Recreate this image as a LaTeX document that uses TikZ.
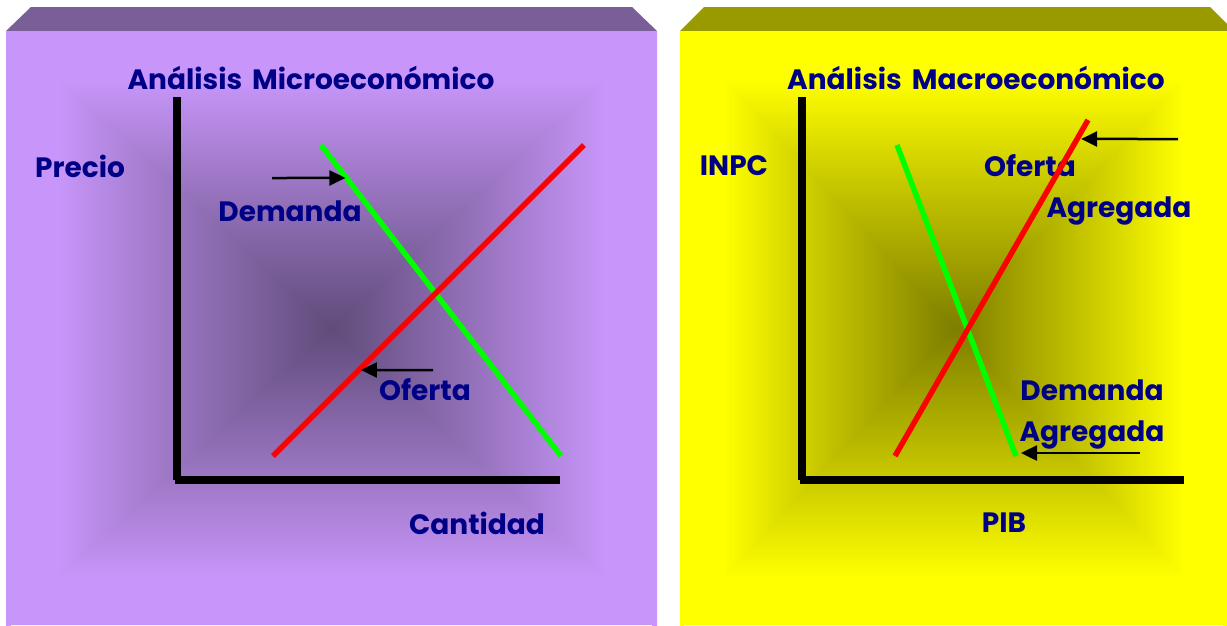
\documentclass[tikz,border=0pt]{standalone}
\usepackage{fontspec}
\setmainfont{Poppins}
\usetikzlibrary{arrows.meta,calc}
\definecolor{lav}{RGB}{200,150,250}
\definecolor{lavdark}{RGB}{96,76,122}
\colorlet{lavmid}{lav!58!lavdark}
\definecolor{lavtop}{RGB}{122,94,152}
\definecolor{yel}{RGB}{255,255,0}
\definecolor{yeldark}{RGB}{126,126,0}
\colorlet{yelmid}{yel!58!yeldark}
\definecolor{yeltop}{RGB}{153,153,0}
\definecolor{navy}{RGB}{0,0,135}
\definecolor{grn}{RGB}{0,255,0}
\definecolor{rd}{RGB}{255,0,0}
\newcommand\declpyr[4]{%
 \pgfdeclarehorizontalshading{#1L}{100bp}{color(0bp)=(#2); color(33bp)=(#2); color(50bp)=(#3); color(75bp)=(#4); color(100bp)=(#4)}%
 \pgfdeclarehorizontalshading{#1R}{100bp}{color(0bp)=(#4); color(25bp)=(#4); color(50bp)=(#3); color(67bp)=(#2); color(100bp)=(#2)}%
 \pgfdeclareverticalshading{#1B}{100bp}{color(0bp)=(#2); color(33bp)=(#2); color(50bp)=(#3); color(75bp)=(#4); color(100bp)=(#4)}%
 \pgfdeclareverticalshading{#1T}{100bp}{color(0bp)=(#4); color(25bp)=(#4); color(50bp)=(#3); color(67bp)=(#2); color(100bp)=(#2)}%
}
\declpyr{lavs}{lav}{lavmid}{lavdark}
\declpyr{yels}{yel}{yelmid}{yeldark}
\newcommand\pyrpanel[5]{%
  \path (#1,#2) coordinate (pA) (#3,#2) coordinate (pB) (#3,#4) coordinate (pC)
        (#1,#4) coordinate (pD) ({(#1+#3)/2},{(#2+#4)/2}) coordinate (pO);
  \begin{scope}\clip ($(pA)+(0,-5)$)--($(pD)+(0,5)$)--($(pO)+(5,0)$)--cycle;
    \shade[shading=#5L] (pA) rectangle (pO|-pD);\end{scope}
  \begin{scope}\clip ($(pB)+(0,-5)$)--($(pC)+(0,5)$)--($(pO)+(-5,0)$)--cycle;
    \shade[shading=#5R] (pO|-pB) rectangle (pC);\end{scope}
  \begin{scope}\clip (pA)--(pB)--(pO)--cycle;
    \shade[shading=#5T] (pA) rectangle (pB|-pO);\end{scope}
  \begin{scope}\clip (pD)--(pC)--(pO)--cycle;
    \shade[shading=#5B] (pA|-pO) rectangle (pC);\end{scope}
}
\begin{document}
\begin{tikzpicture}[x=1pt,y=-1pt,
  lbl/.style={text=navy,font=\fontsize{28}{32}\selectfont\bfseries,inner sep=0pt},
  axisline/.style={line width=8pt,black},
  curve/.style={line width=5.5pt},
  pointer/.style={line width=2.5pt,black,-{Triangle[length=16pt,width=15pt]}}]
\useasboundingbox (0,0) rectangle (1227,625);
\fill[white] (0,0) rectangle (1227,625);
% left panel
\fill[lavtop] (6,31)--(31,7)--(632,7)--(657,31)--cycle;
\pyrpanel{6}{31}{657}{625}{lavs}
% right panel
\fill[yeltop] (680,31)--(704,7)--(1210,7)--(1234,31)--cycle;
\pyrpanel{680}{31}{1227}{625}{yels}

% ---- left diagram
\node[lbl] (tl) at (311,78) {Análisis\hspace{0.15em} Microeconómico};
\node[lbl] (precio) at (80,166) {Precio};
\node[lbl] (dem) at (290,211) {Demanda};
\node[lbl] (of) at (425,390) {Oferta};
\node[lbl] (cant) at (477,523) {Cantidad};
\coordinate (lY) at (177,97); \coordinate (lO) at (177,480);
\coordinate (lH) at (175,480); \coordinate (lX) at (560,480);
\draw[axisline] (lY) -- (lO);
\draw[axisline] (lH) -- (lX);
\coordinate (ld1) at (321,145); \coordinate (ld2) at (561,456);
\coordinate (ls1) at (273,456); \coordinate (ls2) at (584,145);
\draw[curve,grn] (ld1) -- (ld2);
\draw[curve,rd] (ls1) -- (ls2);
\coordinate (lda) at (272,178);
\coordinate (ldb) at ($(ld1)!0.106!(ld2)+(-1,0)$);
\draw[pointer] (lda) -- (ldb);
\coordinate (lsa) at (433,370);
\coordinate (lsb) at ($(ls1)!0.2765!(ls2)+(2,0)$);
\draw[pointer] (lsa) -- (lsb);

% ---- right diagram
\node[lbl] (tr) at (976,78) {Análisis\hspace{0.15em} Macroeconómico};
\node[lbl] (inpc) at (734,166) {INPC};
\node[lbl] (of2) at (1030,166) {Oferta};
\node[lbl] (ag1) at (1119,211) {Agregada};
\node[lbl] (dem2) at (1092,390) {Demanda};
\node[lbl] (ag2) at (1092,435) {Agregada};
\node[lbl] (pib) at (1004,523) {PIB};
\coordinate (rY) at (802,97); \coordinate (rO) at (802,480);
\coordinate (rH) at (800,480); \coordinate (rX) at (1184,480);
\draw[axisline] (rY) -- (rO);
\draw[axisline] (rH) -- (rX);
\coordinate (rd1) at (897,145); \coordinate (rd2) at (1016,456);
\coordinate (rs1) at (895,456); \coordinate (rs2) at (1088,120);
\draw[curve,grn] (rd1) -- (rd2);
\draw[curve,rd] (rs1) -- (rs2);
\coordinate (rsa) at (1178,139);
\coordinate (rsb) at ($(rs1)!0.9435!(rs2)+(4,0)$);
\draw[pointer] (rsa) -- (rsb);
\coordinate (rda) at (1140,453);
\coordinate (rdb) at (1021,453);
\draw[pointer] (rda) -- (rdb);
\end{tikzpicture}
\end{document}
